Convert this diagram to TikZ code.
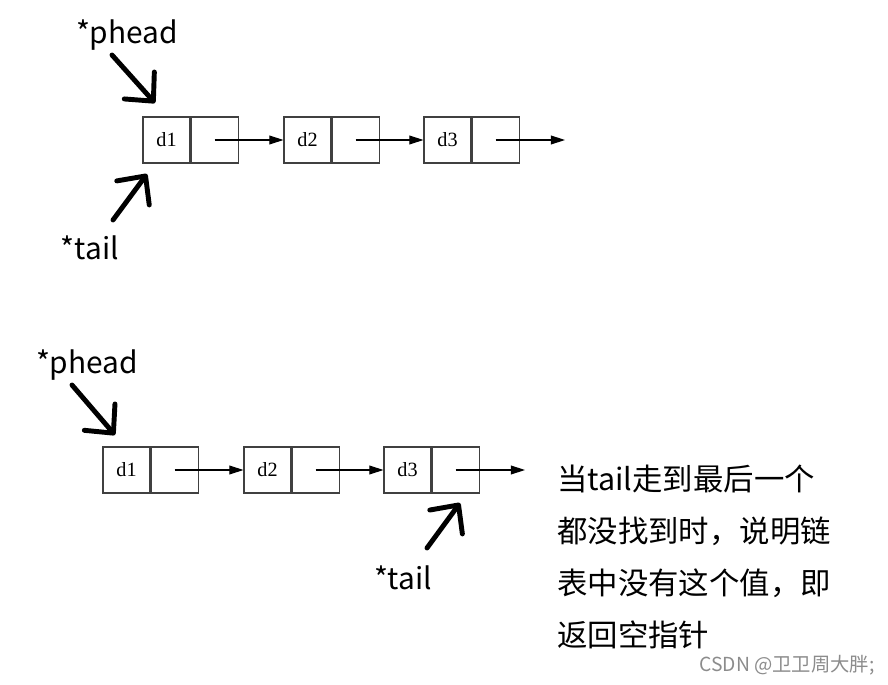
\documentclass[tikz,border=0pt]{standalone}
\usepackage{fontspec}
\setmainfont{Noto Sans CJK SC}
\newfontfamily\cellfont{Liberation Serif}
\usetikzlibrary{arrows.meta}
\tikzstyle{datacell}=[draw=black!75,line width=0.6pt,minimum width=0.94cm,minimum height=0.92cm,inner sep=0pt,font=\cellfont\fontsize{11.5}{11.5}\selectfont]
\tikzstyle{link} = [draw,line width=0.6pt,-{Triangle[length=8pt,width=5pt]}]
\tikzstyle{pointer} = [draw,line width=2.8pt,line cap=round,-{Straight Barb[length=12pt,width=23pt,line cap=round,line join=round]}]
\tikzstyle{ptrlabel} = [inner sep=0pt,font=\fontsize{17}{17}\selectfont]

\begin{document}
\begin{tikzpicture}[x=0.02cm,y=-0.02cm]
    \useasboundingbox (0,0) rectangle (888,685);
    % upper list
    \foreach \name/\x in {1/166.5, 2/307.5, 3/447.5} {
        \node[datacell] (ua\name) at (\x,140) {d\name};
        \node[datacell,anchor=west] (un\name) at (ua\name.east) {};
    }
    \coordinate (uend) at (565,140);
    \foreach \source/ \dest in {un1/ua2, un2/ua3, un3/uend}
        \path[link] (\source.center) -- (\dest);
    % lower list
    \foreach \name/\x in {1/126.5, 2/267.5, 3/407.5} {
        \node[datacell] (la\name) at (\x,470) {d\name};
        \node[datacell,anchor=west] (ln\name) at (la\name.east) {};
    }
    \coordinate (lend) at (525,470);
    \foreach \source/ \dest in {ln1/la2, ln2/la3, ln3/lend}
        \path[link] (\source.center) -- (\dest);
    % pointers
    \node[ptrlabel] (uphead) at (127,35) {*phead};
    \node[ptrlabel] (utail) at (90,248) {*tail};
    \node[ptrlabel] (lphead) at (87,365) {*phead};
    \node[ptrlabel] (ltail) at (403,578) {*tail};
    \foreach \name/\ax/\ay/\bx/\by in {uph/112/55/155/103, uta/113/220/147/174, lph/72/385/115/435, lta/427/548/460/503} {
        \coordinate (\name-from) at (\ax,\ay);
        \coordinate (\name-tip) at (\bx,\by);
        \path[pointer] (\name-from) -- (\name-tip);
    }
    % note
    \node[anchor=north west,inner sep=0pt,align=left,font=\fontsize{17.3}{29.5}\selectfont] (note) at (557,465)
        {当tail走到最后一个\\都没找到时，说明链\\表中没有这个值，即\\返回空指针};
    \node[anchor=east,inner sep=0pt,text=black!45,font=\fontsize{11}{11}\selectfont] (mark) at (875,665) {CSDN @卫卫周大胖;};
\end{tikzpicture}
\end{document}
